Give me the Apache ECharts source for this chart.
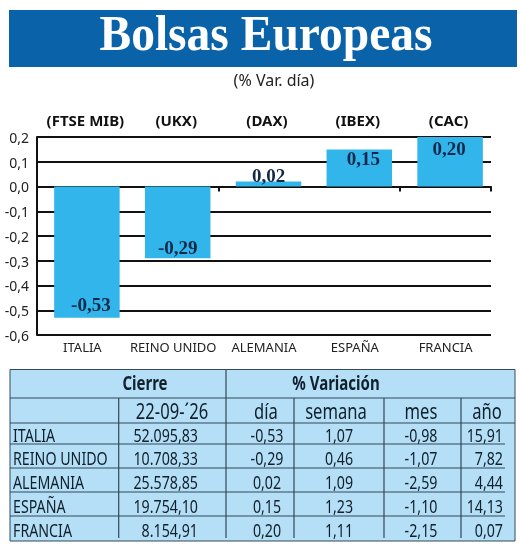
<!DOCTYPE html>
<html>
<head>
<meta charset="UTF-8">
<title>Bolsas Europeas</title>
<script src="https://cdn.jsdelivr.net/npm/echarts@6/dist/echarts.min.js"></script>
<style>
html,body{margin:0;padding:0;background:#fff;}
#main{width:520px;height:547px;}
</style>
</head>
<body>
<div id="main"></div>
<script type="text/javascript">
var paises = ['ITALIA', 'REINO UNIDO', 'ALEMANIA', 'ESPAÑA', 'FRANCIA'];
var indices = ['(FTSE MIB)', '(UKX)', '(DAX)', '(IBEX)', '(CAC)'];
var varDia = [-0.53, -0.29, 0.02, 0.15, 0.20];

var cierre = ['52.095,83', '10.708,33', '25.578,85', '19.754,10', '8.154,91'];
var colDia = ['-0,53', '-0,29', '0,02', '0,15', '0,20'];
var colSemana = ['1,07', '0,46', '1,09', '1,23', '1,11'];
var colMes = ['-0,98', '-1,07', '-2,59', '-1,10', '-2,15'];
var colAno = ['15,91', '7,82', '4,44', '14,13', '0,07'];

var coma = function (v, n) { return v.toFixed(n).replace('.', ','); };

var FONT = '"Noto Sans", sans-serif';
var SERIF = '"Liberation Serif", serif';
var LINEA = '#33495a';

var g = [];
g.push({ type: 'rect', shape: { x: 9, y: 10, width: 508, height: 57 }, style: { fill: '#0a62a8' } });
g.push({ type: 'text', x: 266, y: 37, scaleX: 0.95, z: 6, style: {
	text: 'Bolsas Europeas', fill: '#fff', align: 'center', verticalAlign: 'middle',
	font: 'bold 50px ' + SERIF
} });
g.push({ type: 'rect', shape: { x: 10, y: 369.5, width: 505, height: 171.5 }, style: { fill: '#b5dff6', stroke: LINEA, lineWidth: 1 } });

function hline(y, x1, x2) {
	g.push({ type: 'line', shape: { x1: x1, y1: y, x2: x2, y2: y }, style: { stroke: LINEA, lineWidth: 1.2 } });
}
function vline(x, y1, y2) {
	g.push({ type: 'line', shape: { x1: x, y1: y1, x2: x, y2: y2 }, style: { stroke: LINEA, lineWidth: 1.2 } });
}
// el texto de la tabla va estrechado, no hay fuente condensada
function txt(s, x, y, align, size, weight) {
	g.push({ type: 'text', x: x, y: y, scaleX: 0.79, z: 5, style: {
		text: s, fill: '#10202c', align: align, verticalAlign: 'middle',
		font: (weight || 'normal') + ' ' + size + 'px ' + FONT
	} });
}

hline(398, 10, 515);
hline(423, 10, 515);
[444, 468, 492, 516].forEach(function (y) { hline(y, 10, 505); });
vline(226, 369.5, 538);
[118.7, 294, 384, 461].forEach(function (x) { vline(x, 398, 538); });

txt('Cierre', 145, 385, 'center', 19, 'bold');
txt('% Variación', 336, 385, 'center', 19, 'bold');
txt('22-09-´26', 172, 413, 'center', 21);
txt('día', 266, 413, 'center', 21);
txt('semana', 336, 413, 'center', 21);
txt('mes', 421, 413, 'center', 21);
txt('año', 487, 413, 'center', 21);

var filasY = [437, 460, 484, 508, 532];
paises.forEach(function (p, i) {
	var y = filasY[i];
	txt(p, 13, y, 'left', 18);
	txt(cierre[i], 198, y, 'right', 18);
	txt(colDia[i], 267, y, 'center', 18);
	txt(colSemana[i], 339, y, 'center', 18);
	txt(colMes[i], 421, y, 'center', 18);
	txt(colAno[i], 503, y, 'right', 18);
});

// ajuste a mano de cada etiqueta sobre su barra
var ajuste = [[4, 3], [0, 5], [0, 10], [4, -4], [-1, -1]];
var datos = varDia.map(function (v, i) {
	var pos = v < 0 ? 'insideBottom' : (v < 0.05 ? 'top' : 'insideTop');
	return { value: v, label: { position: pos, offset: ajuste[i] } };
});

var myChart = echarts.init(document.getElementById('main'));
myChart.setOption({
	animation: false,
	backgroundColor: '#fff',
	graphic: g,
	title: { text: '(% Var. día)', left: 269, top: 68, textAlign: 'center',
		textStyle: { color: '#222', fontFamily: FONT, fontWeight: 'normal', fontSize: 16 } },
	grid: { left: 37, right: 29, top: 137, bottom: 212 },
	xAxis: [
		{ // nombres abajo
			type: 'category', data: paises, position: 'bottom',
			axisLine: { show: false, onZero: false }, axisTick: { show: false },
			axisLabel: { interval: 0, margin: 7, color: '#222', fontFamily: FONT, fontSize: 13 }
		},
		{ // indices arriba
			type: 'category', data: indices, position: 'top',
			axisLine: { show: false, onZero: false }, axisTick: { show: false },
			axisLabel: { interval: 0, margin: 8, padding: [0, 0, 0, 6], color: '#111', fontFamily: FONT, fontWeight: 'bold', fontSize: 15 }
		},
		{ // linea del cero
			type: 'category', data: paises, position: 'bottom',
			axisLine: { show: true, onZero: true, lineStyle: { color: '#111', width: 2 } },
			axisTick: { show: true, length: 5, lineStyle: { color: '#111', width: 2 } },
			axisLabel: { show: false }
		}
	],
	yAxis: {
		type: 'value', min: -0.6, max: 0.2, interval: 0.1,
		axisLine: { show: true, onZero: false, lineStyle: { color: '#111', width: 2 } },
		axisTick: { show: false },
		axisLabel: { margin: 8, verticalAlign: 'top', lineHeight: 4, color: '#222', fontFamily: FONT, fontSize: 14,
			formatter: function (v) { return coma(v, 1); } },
		splitLine: { show: true, lineStyle: { color: '#111', width: 2 } }
	},
	series: [
		// serie vacia, solo para correr las barras a la derecha
		{ type: 'bar', xAxisIndex: 0, data: [], barWidth: 9, barGap: 0 },
		{
			type: 'bar', xAxisIndex: 0, data: datos, barWidth: 65.5, barGap: 0,
			itemStyle: { color: '#31b5ea' },
			label: {
				show: true, distance: 5, color: '#12294a',
				fontFamily: SERIF, fontWeight: 'bold', fontSize: 19,
				formatter: function (p) { return coma(p.value, 2); }
			}
		}
	]
});
</script>
</body>
</html>
